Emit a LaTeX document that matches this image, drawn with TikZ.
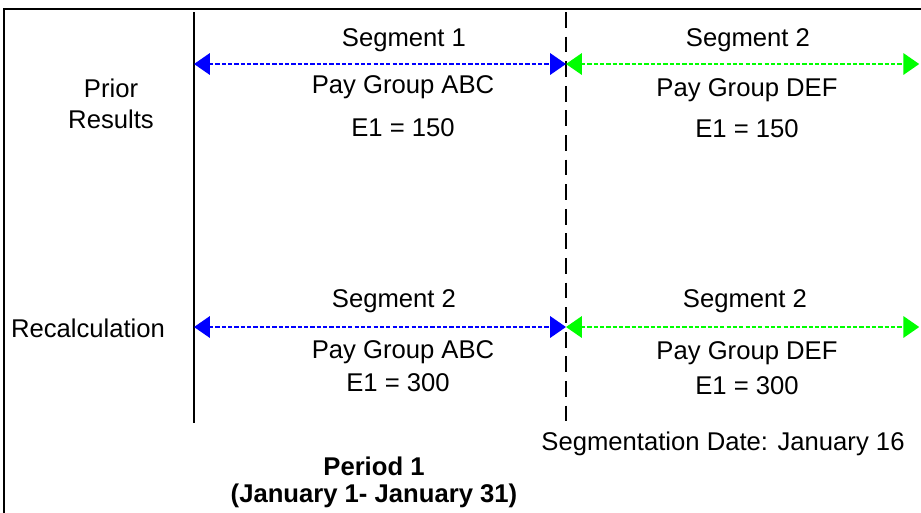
\documentclass[tikz,border=0pt]{standalone}
\usepackage{fontspec}
\setmainfont{Liberation Sans}
\usetikzlibrary{arrows.meta}
\tikzset{
  lbl/.style={font=\fontsize{14.6}{17}\selectfont, inner sep=0pt},
  bold lbl/.style={lbl, font=\fontsize{14.6}{17}\selectfont\bfseries},
  seg/.style={line width=1.6pt, dash pattern=on 2.4pt off 1.2pt, {Triangle[width=12pt,length=9pt]}-{Triangle[width=12pt,length=9pt]}},
}
\definecolor{segblue}{RGB}{0,0,255}
\definecolor{seggreen}{RGB}{0,255,0}
\begin{document}
\begin{tikzpicture}[x=0.02cm,y=-0.02cm]
			\useasboundingbox (0,0) rectangle (921,512);
			\draw[line width=0.7pt] (4,9) rectangle (940,540);
			% period boundary and segmentation date
			\coordinate (pstart top) at (194,12);
			\coordinate (pstart bot) at (194,423);
			\coordinate (sdate top) at (566,12);
			\coordinate (sdate bot) at (566,423);
			\coordinate (pend) at (921,64);
			\coordinate (pend2) at (921,327);
			\draw[line width=1.5pt] (pstart top) -- (pstart bot);
			\draw[line width=1.5pt, dash pattern=on 9pt off 5pt] (sdate top) -- (sdate bot);
			% prior results
			\coordinate (prior a) at (194,64);
			\coordinate (prior b) at (566,64);
			\draw[seg, segblue] (prior a) -- (prior b);
			\draw[seg, seggreen] (prior b) -- ([xshift=-1]pend);
			\node[lbl] (prior) at (111,88) {Prior};
			\node[lbl] (results) at (111,119) {Results};
			\node[lbl] (seg1) at (404,40) {Segment 1};
			\node[lbl] (pgabc1) at (403,87) {Pay Group ABC};
			\node[lbl] (e1a) at (403,128) {E1 = 150};
			\node[lbl] (seg2a) at (748,40) {Segment 2};
			\node[lbl] (pgdef1) at (747,90) {Pay Group DEF};
			\node[lbl] (e1b) at (747,129) {E1 = 150};
			% recalculation
			\coordinate (recalc a) at (194,327);
			\coordinate (recalc b) at (566,327);
			\draw[seg, segblue] (recalc a) -- (recalc b);
			\draw[seg, seggreen] (recalc b) -- ([xshift=-1]pend2);
			\node[lbl] (recalc) at (88,328) {Recalculation};
			\node[lbl] (seg2b) at (394,301) {Segment 2};
			\node[lbl] (pgabc2) at (403,352) {Pay Group ABC};
			\node[lbl] (e1c) at (398,383) {E1 = 300};
			\node[lbl] (seg2c) at (745,301) {Segment 2};
			\node[lbl] (pgdef2) at (747,353) {Pay Group DEF};
			\node[lbl] (e1d) at (747,386) {E1 = 300};
			% captions
			\node[lbl] (sdate) at (723,444) {Segmentation Date: January 16};
			\node[bold lbl] (period) at (374,466) {Period 1};
			\node[bold lbl] (prange) at (374,496) {(January 1- January 31)};
		\end{tikzpicture}
\end{document}
